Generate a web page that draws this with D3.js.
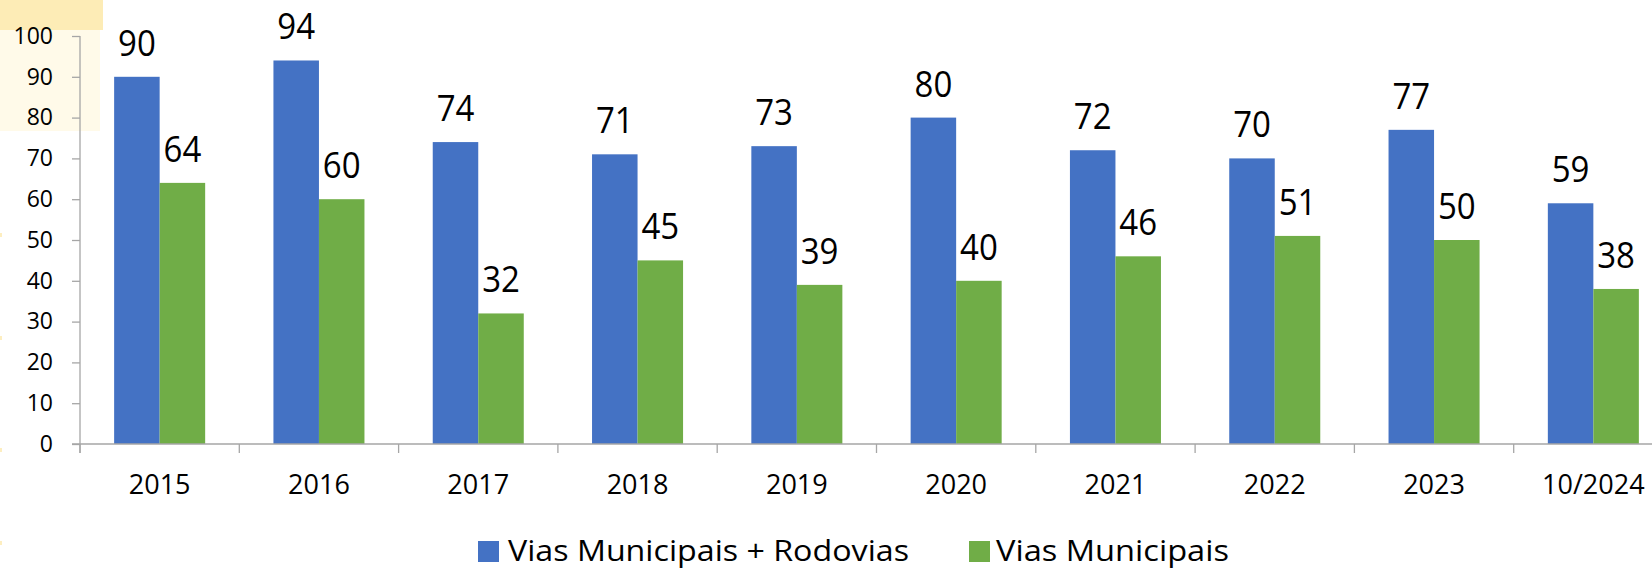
<!DOCTYPE html>
<html><head><meta charset="utf-8">
<script src="https://cdn.jsdelivr.net/npm/d3@7"></script>
<style>
html,body{margin:0;padding:0;background:#fff;}
svg{display:block;}
text{font-family:"Open Sans","Noto Sans",sans-serif;fill:#000;}
</style></head>
<body>
<script>
const categories = ["2015","2016","2017","2018","2019","2020","2021","2022","2023","10/2024"];
const seriesNames = ["Vias Municipais + Rodovias","Vias Municipais"];
const viasRodovias = [90,94,74,71,73,80,72,70,77,59];
const viasMunicipais = [64,60,32,45,39,40,46,51,50,38];
const yTicks = [0,10,20,30,40,50,60,70,80,90,100];
const colors = ["#4472C4","#70AD47"];

const W = 1652, H = 569;
const svg = d3.select("body").append("svg").attr("width", W).attr("height", H);

// background highlight artifacts
svg.append("rect").attr("x",0).attr("y",0).attr("width",103).attr("height",30).attr("fill","#fdecb6");
svg.append("rect").attr("x",0).attr("y",30).attr("width",100).attr("height",101).attr("fill","#fffae9");
[235,338,450,543].forEach(y=>svg.append("rect").attr("x",0).attr("y",y-2).attr("width",2).attr("height",4).attr("fill","#fdeec0"));

const x0 = 80, step = 159.3;
const x = d3.scaleBand().domain(categories).range([x0, x0 + step*categories.length]).paddingInner(0.4286).paddingOuter(0.2143);
const xs = d3.scaleBand().domain([0,1]).range([0, x.bandwidth()]);
const y = d3.scaleLinear().domain([0,100]).range([444, 36]);

const axisColor = "#a6a6a6";
// y axis
const yAxis = svg.append("g").attr("transform",`translate(${x0},0)`)
  .call(d3.axisLeft(y).tickValues(yTicks).tickSize(8).tickPadding(19).tickSizeOuter(0));
yAxis.select(".domain").attr("stroke",axisColor).attr("stroke-width",1.3).attr("d",`M0,${y(100)}V453`);
yAxis.selectAll(".tick line").attr("stroke",axisColor).attr("stroke-width",1.3);
yAxis.selectAll(".tick text").attr("font-size",23).attr("fill","#000").attr("font-family","Open Sans");

// bars
const data = categories.map((c,i)=>({c, v:[viasRodovias[i], viasMunicipais[i]]}));
const groups = svg.append("g").selectAll("g").data(data).join("g")
  .attr("transform", d=>`translate(${x(d.c)},0)`);
groups.selectAll("rect").data(d=>d.v.map((v,k)=>({v,k}))).join("rect")
  .attr("x", d=>xs(d.k)).attr("width", xs.bandwidth())
  .attr("y", d=>y(d.v)).attr("height", d=>y(0)-y(d.v))
  .attr("fill", d=>colors[d.k]);
groups.selectAll("text").data(d=>d.v.map((v,k)=>({v,k}))).join("text")
  .attr("x", d=>xs(d.k)+xs.bandwidth()/2)
  .attr("y", d=>y(d.v)-21)
  .attr("text-anchor","middle")
  .attr("font-size",33)
  .attr("transform", d=>`translate(0,${y(d.v)-21}) scale(1,1.08) translate(0,${-(y(d.v)-21)})`)
  .text(d=>d.v);

// x axis
const xAxisG = svg.append("g");
xAxisG.append("line").attr("x1",72).attr("x2",W).attr("y1",444).attr("y2",444).attr("stroke",axisColor).attr("stroke-width",1.3);
d3.range(categories.length+1).forEach(i=>{
  const xx = x0 + i*x.step();
  xAxisG.append("line").attr("x1",xx).attr("x2",xx).attr("y1",444).attr("y2",453).attr("stroke",axisColor).attr("stroke-width",1.3);
});
xAxisG.selectAll("text.xl").data(categories).join("text").attr("class","xl")
  .attr("x", d=>x(d)+x.bandwidth()/2).attr("y",494)
  .attr("text-anchor","middle").attr("font-size",27).text(d=>d);

// legend
const legendItems = [
  {name: seriesNames[0], color: colors[0], sx: 478, tx: 508, tl: 401},
  {name: seriesNames[1], color: colors[1], sx: 969, tx: 996, tl: 233}
];
const lg = svg.append("g");
legendItems.forEach(it=>{
  lg.append("rect").attr("x",it.sx).attr("y",541).attr("width",21).attr("height",21).attr("fill",it.color);
  lg.append("text").attr("x",it.tx).attr("y",561).attr("font-size",29)
    .attr("textLength",it.tl).attr("lengthAdjust","spacingAndGlyphs").text(it.name);
});
</script>
</body></html>
